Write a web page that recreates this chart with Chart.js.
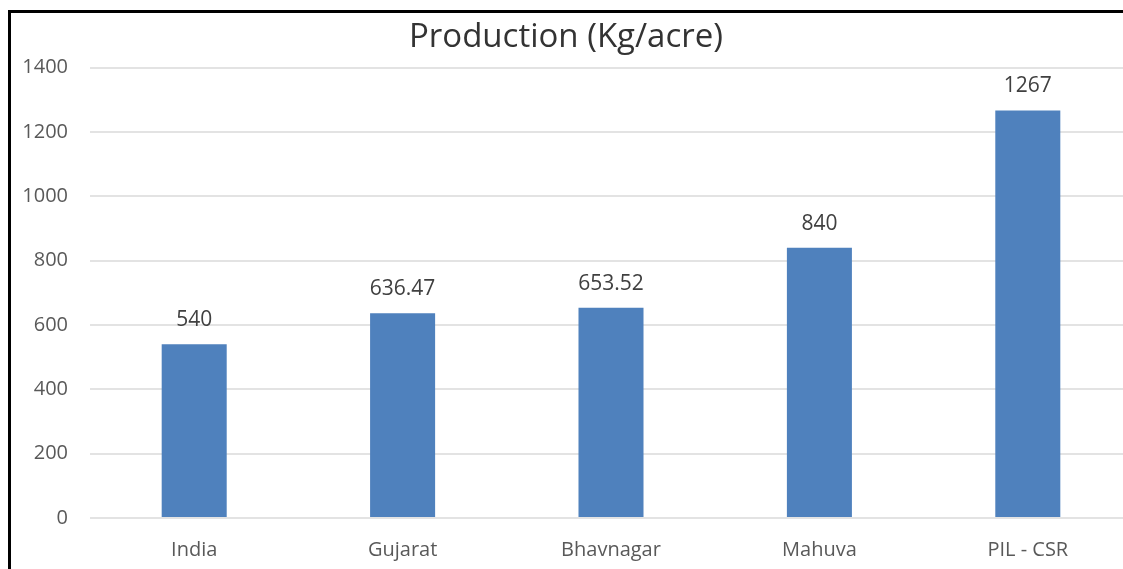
<!DOCTYPE html>
<html>
<head>
<meta charset="utf-8">
<script src="https://cdn.jsdelivr.net/npm/chart.js@4.4.1/dist/chart.umd.min.js"></script>
<style>
  html, body { margin: 0; padding: 0; background: #fff; overflow: hidden; }
  #frame {
    position: absolute; left: 8px; top: 10px; width: 1200px; height: 600px;
    border-top: 3px solid #000; border-left: 3px solid #000;
  }
  #wrap { position: absolute; left: 0; top: 0; width: 1132px; height: 569px; }
</style>
</head>
<body>
<div id="frame"></div>
<div id="wrap"><canvas id="productionChart"></canvas></div>
<script>
// dados do gráfico
const regions = ['India', 'Gujarat', 'Bhavnagar', 'Mahuva', 'PIL - CSR'];
const production = [540, 636.47, 653.52, 840, 1267];
const productionLabels = ['540', '636.47', '653.52', '840', '1267'];
const yTicks = [0, 200, 400, 600, 800, 1000, 1200, 1400];

const FONT = "'Open Sans', sans-serif";

// escreve os valores acima das barras
const valueLabels = {
  id: 'valueLabels',
  afterDatasetsDraw(chart) {
    const ctx = chart.ctx;
    const meta = chart.getDatasetMeta(0);
    ctx.save();
    ctx.font = '21px ' + FONT;
    ctx.fillStyle = '#404040';
    ctx.textAlign = 'center';
    ctx.textBaseline = 'alphabetic';
    meta.data.forEach((bar, i) => {
      ctx.fillText(productionLabels[i], bar.x, bar.y - 18);
    });
    ctx.restore();
  }
};

const ctx = document.getElementById('productionChart').getContext('2d');
const chart = new Chart(ctx, {
  type: 'bar',
  data: {
    labels: regions,
    datasets: [{
      data: production,
      backgroundColor: '#4f81bd',
      borderWidth: 0,
      barPercentage: 1,
      categoryPercentage: 0.312
    }]
  },
  options: {
    responsive: true,
    maintainAspectRatio: false,
    animation: false,
    layout: { padding: { top: 18, right: 0, bottom: 0, left: 0 } },
    plugins: {
      legend: { display: false },
      tooltip: { enabled: false },
      title: {
        display: true,
        text: 'Production (Kg/acre)',
        color: '#333333',
        font: { family: FONT, size: 33, weight: 'normal', lineHeight: 1.2 },
        padding: { top: 0, bottom: 10 }
      }
    },
    scales: {
      x: {
        grid: { display: false, drawTicks: false },
        border: { display: false },
        ticks: { color: '#595959', font: { family: FONT, size: 20 }, padding: 20 },
        afterFit(scale) { scale.height = 51; }
      },
      y: {
        min: 0,
        max: 1400,
        grid: { color: '#e3e3e3', lineWidth: 2, drawTicks: false },
        border: { display: false },
        ticks: {
          stepSize: 200,
          color: '#595959',
          font: { family: FONT, size: 20 },
          padding: 22,
          callback: (v) => yTicks.includes(v) ? String(v) : null
        },
        afterFit(scale) { scale.width = 90; }
      }
    }
  },
  plugins: [valueLabels]
});
</script>
</body>
</html>
